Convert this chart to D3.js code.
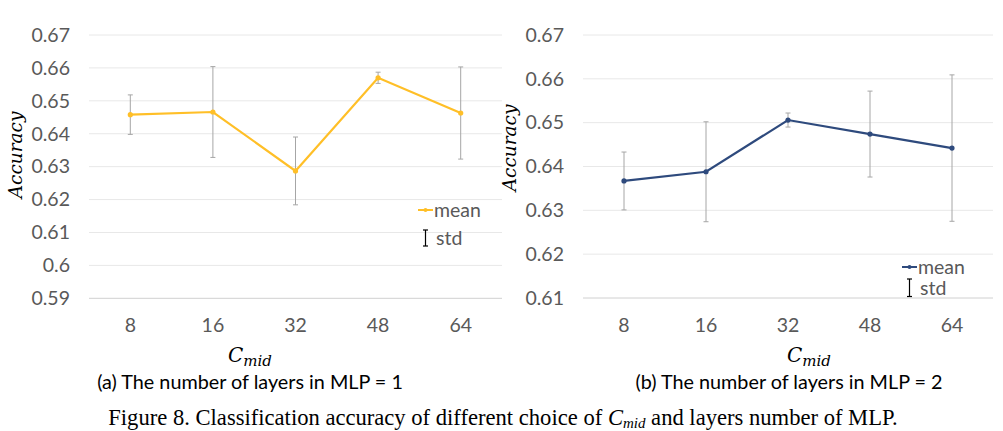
<!DOCTYPE html>
<html><head><meta charset="utf-8">
<script src="https://cdn.jsdelivr.net/npm/d3@7"></script>
<style>
body{margin:0;background:#fff;}
svg{display:block;}
</style></head>
<body>
<svg id="chart" width="1003" height="431"></svg>
<script>
const categories = ["8","16","32","48","64"];
const meanA = [0.6458, 0.6466, 0.6287, 0.6570, 0.6463];
const stdA  = [0.0060, 0.0138, 0.0103, 0.0017, 0.0140];
const meanB = [0.6367, 0.6388, 0.6506, 0.6474, 0.6442];
const stdB  = [0.0066, 0.0114, 0.0016, 0.0098, 0.0167];
const ticksA = [0.59,0.60,0.61,0.62,0.63,0.64,0.65,0.66,0.67];
const ticksB = [0.61,0.62,0.63,0.64,0.65,0.66,0.67];

const svg = d3.select("#chart");
const tickFont = "Lato, 'Open Sans', sans-serif";
const fs = 19.5;

function panel(o){
  const g = svg.append("g");
  const x = d3.scaleBand().domain(categories).range([o.x0,o.x1]);
  const y = d3.scaleLinear().domain(o.domain).range([o.yb,o.yt]);
  g.selectAll("line.grid").data(o.ticks).join("line")
    .attr("x1",o.x0).attr("x2",o.gx1).attr("y1",d=>y(d)).attr("y2",d=>y(d))
    .attr("stroke",d=>d===o.domain[0]?"#d0d0d0":"#e8e8e8").attr("stroke-width",1);
  g.selectAll("text.yt").data(o.ticks).join("text")
    .attr("x",o.x0-19).attr("y",d=>y(d)).attr("dy","0.35em")
    .attr("text-anchor","end").attr("font-family",tickFont).attr("font-size",fs)
    .attr("fill","#595959").text(d=>+d.toFixed(2)+"");
  g.selectAll("text.xt").data(categories).join("text")
    .attr("x",d=>x(d)+x.bandwidth()/2).attr("y",o.yb+27).attr("dy","0.35em")
    .attr("text-anchor","middle").attr("font-family",tickFont).attr("font-size",fs)
    .attr("fill","#595959").text(d=>d);
  const cx = d=>x(d)+x.bandwidth()/2;
  const eb = g.selectAll("g.eb").data(categories).join("g");
  eb.append("line").attr("x1",cx).attr("x2",cx)
    .attr("y1",(d,i)=>y(o.mean[i]+o.std[i])).attr("y2",(d,i)=>y(o.mean[i]-o.std[i]))
    .attr("stroke","#a6a6a6").attr("stroke-width",1);
  [1,-1].forEach(s=>{
    eb.append("line").attr("x1",d=>cx(d)-2.5).attr("x2",d=>cx(d)+2.5)
      .attr("y1",(d,i)=>y(o.mean[i]+s*o.std[i])).attr("y2",(d,i)=>y(o.mean[i]+s*o.std[i]))
      .attr("stroke","#a6a6a6").attr("stroke-width",1);
  });
  g.append("path").datum(categories)
    .attr("d",d3.line().x(cx).y((d,i)=>y(o.mean[i])))
    .attr("fill","none").attr("stroke",o.color).attr("stroke-width",2.2);
  g.selectAll("circle.m").data(categories).join("circle")
    .attr("cx",cx).attr("cy",(d,i)=>y(o.mean[i])).attr("r",2.6).attr("fill",o.color);
  g.append("text").attr("transform",`translate(${o.ytx},${o.yty}) rotate(-90)`)
    .attr("text-anchor","middle").attr("font-family","'DejaVu Serif', serif")
    .attr("font-style","italic").attr("font-size",18.5).attr("fill","#000").text("Accuracy");
  const xt = g.append("text").attr("x",o.xtx).attr("y",362).attr("font-family","'DejaVu Serif', serif")
    .attr("font-style","italic").attr("font-size",20).attr("fill","#000");
  xt.append("tspan").text("C");
  xt.append("tspan").attr("font-size",15).attr("dy",4).text("mid");
  g.append("line").attr("x1",o.lx).attr("x2",o.lx+15).attr("y1",o.ly).attr("y2",o.ly)
    .attr("stroke",o.color).attr("stroke-width",2);
  g.append("circle").attr("cx",o.lx+7.5).attr("cy",o.ly).attr("r",2).attr("fill",o.color);
  g.append("text").attr("x",o.lx+16).attr("y",o.ly).attr("dy","0.35em")
    .attr("font-family",tickFont).attr("font-size",fs).attr("fill","#595959").text("mean");
  const sx = o.lx+7.5, sy0 = o.sy0, sy1 = o.sy1;
  g.append("line").attr("x1",sx).attr("x2",sx).attr("y1",sy0).attr("y2",sy1).attr("stroke","#000").attr("stroke-width",1.2);
  g.append("line").attr("x1",sx-2.5).attr("x2",sx+2.5).attr("y1",sy0).attr("y2",sy0).attr("stroke","#000").attr("stroke-width",1.2);
  g.append("line").attr("x1",sx-2.5).attr("x2",sx+2.5).attr("y1",sy1).attr("y2",sy1).attr("stroke","#000").attr("stroke-width",1.2);
  g.append("text").attr("x",o.lx+18).attr("y",(sy0+sy1)/2).attr("dy","0.35em")
    .attr("font-family",tickFont).attr("font-size",fs).attr("fill","#595959").text("std");
  g.append("text").attr("x",o.capx).attr("y",389).attr("text-anchor","middle")
    .attr("font-family",tickFont).attr("font-size",19.8).attr("fill","#000").text(o.caption);
}

panel({x0:89,x1:502,gx1:502,domain:[0.59,0.67],ticks:ticksA,yb:298.3,yt:35,
  mean:meanA,std:stdA,color:"#FFBF27",ytx:22,yty:155,xtx:228,
  lx:418,ly:210,sy0:230,sy1:246,caption:"(a) The number of layers in MLP = 1",capx:250});
panel({x0:583,x1:993,gx1:993,domain:[0.61,0.67],ticks:ticksB,yb:298,yt:35,
  mean:meanB,std:stdB,color:"#2E4A7D",ytx:516,yty:148,xtx:787,
  lx:902,ly:267,sy0:279,sy1:296.5,caption:"(b) The number of layers in MLP = 2",capx:789});

const cap = svg.append("text").attr("x",503).attr("y",425).attr("text-anchor","middle")
  .attr("font-family","'Liberation Serif', 'Times New Roman', serif").attr("font-size",22.6).attr("fill","#000");
cap.append("tspan").text("Figure 8. Classification accuracy of different choice of ");
cap.append("tspan").attr("font-style","italic").text("C");
cap.append("tspan").attr("font-style","italic").attr("font-size",15).attr("dy",3).text("mid");
cap.append("tspan").attr("dy",-3).text(" and layers number of MLP.");
</script>
</body></html>
